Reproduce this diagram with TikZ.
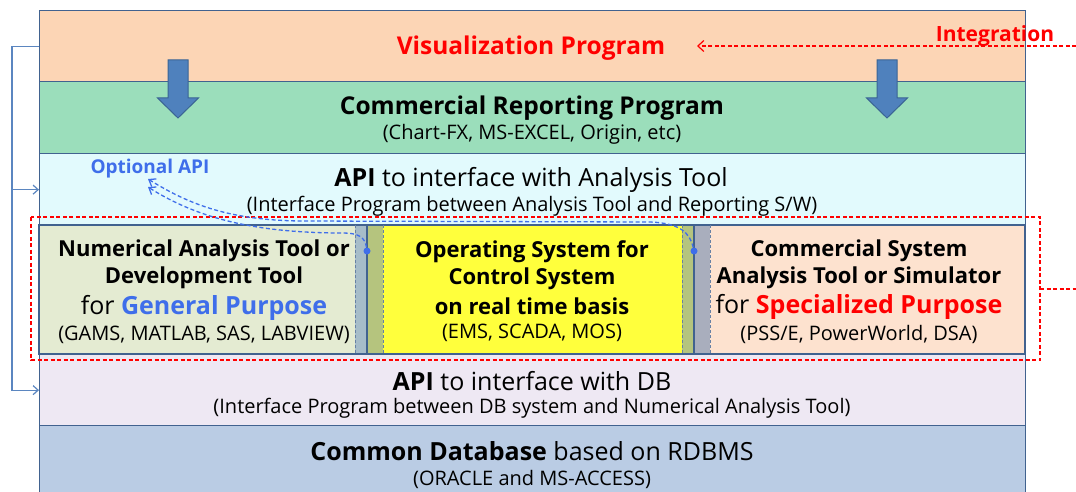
\documentclass[tikz,border=0pt]{standalone}
\usepackage{fontspec}
\setmainfont{Open Sans}
\usetikzlibrary{arrows.meta}
\definecolor{bord}{HTML}{41628F}
\definecolor{visfill}{HTML}{FCD5B5}
\definecolor{crpfill}{HTML}{9BDEBB}
\definecolor{apifill}{HTML}{E2FAFD}
\definecolor{lboxfill}{HTML}{E4EBD2}
\definecolor{yel}{HTML}{FFFF3C}
\definecolor{rboxfill}{HTML}{FDE2CF}
\definecolor{dbapifill}{HTML}{EEE8F3}
\definecolor{dbfill}{HTML}{BACCE4}
\definecolor{barblue}{HTML}{A6BCC9}
\definecolor{bargreen}{HTML}{B5C47E}
\definecolor{bargrey}{HTML}{A9AEBD}
\definecolor{arrowblue}{HTML}{4F81BD}
\definecolor{arrowedge}{HTML}{3A6494}
\definecolor{optblue}{HTML}{3F6EEA}
\definecolor{brk}{HTML}{5B86C0}
\definecolor{myred}{HTML}{FF0000}
\tikzset{
  layer/.style={draw=bord, line width=1.3pt, anchor=north west, inner sep=0pt, minimum width=986pt},
  cell/.style={anchor=north west, inner sep=0pt, minimum height=129pt},
  txt/.style={inner sep=0pt, yshift=-2pt},
  title/.style={txt, font=\bfseries\fontsize{24.5}{28}\selectfont},
  sub/.style={txt, font=\fontsize{20}{23}\selectfont},
  boxline/.style={txt, font=\bfseries\fontsize{22}{25}\selectfont},
  bigline/.style={txt, font=\fontsize{25}{28}\selectfont},
  sepdash/.style={draw=bord!80, line width=0.9pt, dash pattern=on 3pt off 2pt},
  sepsolid/.style={draw=bord, line width=1.2pt},
  bracket/.style={draw=brk, line width=1.2pt},
  optarrow/.style={draw=optblue, line width=1.3pt, dash pattern=on 4pt off 2.5pt, -{Straight Barb[length=6pt,width=9pt]}},
  blockarrow/.style={fill=arrowblue, draw=arrowedge, line width=1pt},
  reddash/.style={draw=myred, line width=1.2pt, dash pattern=on 4pt off 2.5pt}
}
\begin{document}
\begin{tikzpicture}[x=1pt,y=-1pt]
\useasboundingbox (0,0) rectangle (1076,492);
\clip (0,0) rectangle (1076,492);
% layers
\node[layer, fill=visfill, minimum height=71pt] (vis) at (39,10) {};
\node[layer, fill=crpfill, minimum height=72pt] (crp) at (39,81) {};
\node[layer, fill=apifill, minimum height=72pt] (api) at (39,153) {};
\node[layer, fill=dbapifill, minimum height=71pt] (dbapi) at (39,354) {};
\node[layer, fill=dbfill, minimum height=80pt] (db) at (39,425) {};
% middle row cells
\node[cell, fill=lboxfill, minimum width=316pt] (lbox) at (39,225) {};
\node[cell, fill=barblue, minimum width=12pt] (bar1) at (355,225) {};
\node[cell, fill=bargreen, minimum width=16pt] (bar2) at (367,225) {};
\node[cell, fill=yel, minimum width=299pt] (mbox) at (383,225) {};
\node[cell, fill=bargreen, minimum width=12pt] (bar3) at (682,225) {};
\node[cell, fill=bargrey, minimum width=16pt] (bar4) at (694,225) {};
\node[cell, fill=rboxfill, minimum width=315pt] (rbox) at (710,225) {};
\draw[sepsolid] (39,225) rectangle (1025,354);
\draw[sepsolid] (bar2.north west) -- (bar2.south west);
\draw[sepsolid] (bar4.north west) -- (bar4.south west);
\draw[sepdash] (bar1.north west) -- (bar1.south west);
\draw[sepdash] (mbox.north west) -- (mbox.south west);
\draw[sepdash] (mbox.north east) -- (mbox.south east);
\draw[sepdash] (rbox.north west) -- (rbox.south west);
% block arrows
\foreach \cx in {178,887}{
  \draw[blockarrow] (\cx-10,60) -- (\cx+10,60) -- (\cx+10,98) -- (\cx+20.5,98) -- (\cx,118) -- (\cx-20.5,98) -- (\cx-10,98) -- cycle;
}
% texts
\node[title, text=myred] (vistxt) at (531,46) {Visualization Program};
\node[txt, font=\bfseries\fontsize{21}{24}\selectfont, text=myred] (integ) at (995,34) {Integration};
\node[title] (crpt) at (532,106) {Commercial Reporting Program};
\node[sub] (crps) at (532,132) {(Chart-FX, MS-EXCEL, Origin, etc)};
\node[bigline] (apit) at (531,178) {\textbf{API} to interface with Analysis Tool};
\node[sub] (apis) at (532,204) {(Interface Program between Analysis Tool and Reporting S/W)};
\node[txt, font=\bfseries\fontsize{19}{22}\selectfont, text=optblue] (opt) at (150,167) {Optional API};
\node[boxline] (l1) at (204,249) {Numerical Analysis Tool or};
\node[boxline] (l2) at (204,276) {Development Tool};
\node[bigline] (l3) at (204,306) {for \textcolor{optblue}{\textbf{General Purpose}}};
\node[sub] (l4) at (204,333) {(GAMS, MATLAB, SAS, LABVIEW)};
\node[boxline] (m1) at (532,250) {Operating System for};
\node[boxline] (m2) at (532,277) {Control System};
\node[boxline] (m3) at (532,304) {on real time basis};
\node[sub] (m4) at (532,331) {(EMS, SCADA, MOS)};
\node[boxline] (r1) at (859,249) {Commercial System};
\node[boxline] (r2) at (859,276) {Analysis Tool or Simulator};
\node[bigline] (r3) at (859,305) {for \textcolor{myred}{\textbf{Specialized Purpose}}};
\node[sub] (r4) at (859,332) {(PSS/E, PowerWorld, DSA)};
\node[bigline] (dbat) at (532,379) {\textbf{API} to interface with DB};
\node[sub] (dbas) at (532,406) {(Interface Program between DB system and Numerical Analysis Tool)};
\node[bigline] (dbt) at (532,449) {\textbf{Common Database} based on RDBMS};
\node[sub] (dbs) at (532,477) {(ORACLE and MS-ACCESS)};
% red dashed integration frame
\draw[reddash] (31,217) rectangle (1040,360);
\coordinate (redR) at (1076,289);
\coordinate (redL) at (1040,289);
\draw[reddash] (redL) -- (redR);
\coordinate (integR) at (1076,46);
\coordinate (integL) at (697,46);
\draw[reddash, -{Straight Barb[length=6pt,width=11pt]}] (integR) -- (integL);
% left bracket
\draw[bracket, -{Straight Barb[length=5pt,width=9pt]}] (vis.west) -- ++(-27,0) |- (dbapi.west);
\draw[bracket, -{Straight Barb[length=5pt,width=9pt]}] ([xshift=-27pt]api.west) -- (api.west);
% optional API dashed arrows
\node[circle, fill=optblue, inner sep=0pt, minimum size=7pt] (dotL) at (367,251) {};
\node[circle, fill=optblue, inner sep=0pt, minimum size=7pt] (dotR) at (694,251) {};
\coordinate (tipA) at (148,187);
\coordinate (tipB) at (148,179);
\draw[optarrow] (dotL) .. controls (365,237) and (358,233) .. (343,233) .. controls (260,233) and (200,220) .. (tipA);
\draw[optarrow] (dotR) .. controls (690,233) and (680,223) .. (650,222) -- (300,221) .. controls (230,220) and (190,205) .. (tipB);
\end{tikzpicture}
\end{document}
